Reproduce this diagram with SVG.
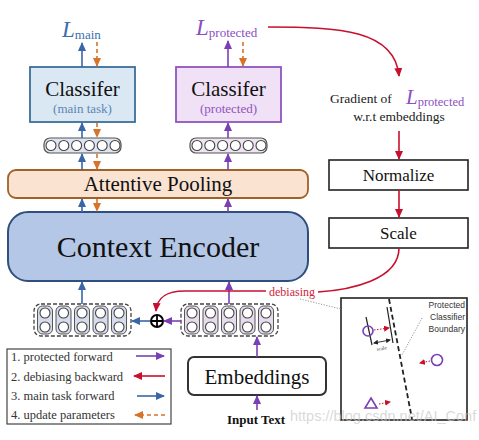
<svg xmlns="http://www.w3.org/2000/svg" width="479" height="440" viewBox="0 0 479 440">
<defs>
<style>
.serif{font-family:'Liberation Serif','DejaVu Serif','Noto Serif',serif}
.sans{font-family:'Liberation Sans','DejaVu Sans',sans-serif}
.blue{stroke:#3a66a8;stroke-width:1.6;fill:none}
.purp{stroke:#7b3fb5;stroke-width:1.6;fill:none}
.orng{stroke:#d8732a;stroke-width:1.6;fill:none;stroke-dasharray:4 3}
.red{stroke:#c8102e;stroke-width:1.6;fill:none}
.col{stroke:#555;stroke-width:1}
.dot{fill:#fff;stroke:#444;stroke-width:1.1}
</style>
<marker id="ab" markerUnits="userSpaceOnUse" markerWidth="9" markerHeight="8" refX="8" refY="4" orient="auto"><path d="M0,0 L9,4 L0,8 z" fill="#3a66a8"/></marker>
<marker id="ap" markerUnits="userSpaceOnUse" markerWidth="9" markerHeight="8" refX="8" refY="4" orient="auto"><path d="M0,0 L9,4 L0,8 z" fill="#7b3fb5"/></marker>
<marker id="ao" markerUnits="userSpaceOnUse" markerWidth="9" markerHeight="8" refX="8" refY="4" orient="auto"><path d="M0,0 L9,4 L0,8 z" fill="#d8732a"/></marker>
<marker id="ar" markerUnits="userSpaceOnUse" markerWidth="9" markerHeight="8" refX="8" refY="4" orient="auto"><path d="M0,0 L9,4 L0,8 z" fill="#c8102e"/></marker>
<marker id="ars" markerUnits="userSpaceOnUse" markerWidth="6" markerHeight="6" refX="5" refY="3" orient="auto"><path d="M0,0 L6,3 L0,6 z" fill="#c8102e"/></marker>
<marker id="ak" markerUnits="userSpaceOnUse" markerWidth="5" markerHeight="5" refX="4" refY="2.5" orient="auto-start-reverse"><path d="M0,0 L5,2.5 L0,5 z" fill="#222"/></marker>
<g id="colL"><rect x="-7.5" y="-14" width="15" height="28" rx="5" fill="#d5dcec" class="col"/><circle cx="0" cy="-7" r="5" class="dot"/><circle cx="0" cy="7" r="5" class="dot"/></g>
<g id="colR"><rect x="-7.5" y="-14" width="15" height="28" rx="5" fill="#e6dcee" class="col"/><circle cx="0" cy="-7" r="5" class="dot"/><circle cx="0" cy="7" r="5" class="dot"/></g>
</defs>
<rect width="479" height="440" fill="#fff"/>

<!-- Loss labels -->
<g id="lmain"><text x="62" y="37" class="serif" font-family="'Liberation Serif','DejaVu Serif',serif" fill="#3a6fb0"><tspan font-style="italic" font-size="23">L</tspan><tspan font-size="13" dy="2">main</tspan></text></g>
<g id="lprot"><text x="196" y="35" class="serif" font-family="'Liberation Serif','DejaVu Serif',serif" fill="#8b4fc2"><tspan font-style="italic" font-size="23">L</tspan><tspan font-size="13" dy="2">protected</tspan></text></g>

<g font-family="'Liberation Serif','DejaVu Serif',serif">
<!-- Classifiers -->
<g id="clsMain"><rect x="30" y="67" width="105" height="55" fill="#dae8f4" stroke="#3b6e99" stroke-width="1.8"/>
<text x="82.5" y="96" text-anchor="middle" class="serif" font-size="21" fill="#111">Classifer</text>
<text x="82.5" y="113" text-anchor="middle" class="serif" font-size="13" fill="#5a86b5">(main task)</text></g>
<g id="clsProt"><rect x="176" y="67" width="105" height="55" fill="#f0e1f6" stroke="#8e55c0" stroke-width="1.8"/>
<text x="228.5" y="96" text-anchor="middle" class="serif" font-size="21" fill="#111">Classifer</text>
<text x="228.5" y="113" text-anchor="middle" class="serif" font-size="13" fill="#8e55c0">(protected)</text></g>

<!-- pooled vectors -->
<g id="vecMain"><rect x="44" y="138" width="77" height="15" rx="6" fill="#dfe5f0" stroke="#555" stroke-width="1.2"/>
<g class="dot"><circle cx="51" cy="145.5" r="5"/><circle cx="63.8" cy="145.5" r="5"/><circle cx="76.6" cy="145.5" r="5"/><circle cx="89.4" cy="145.5" r="5"/><circle cx="102.2" cy="145.5" r="5"/><circle cx="115" cy="145.5" r="5"/></g></g>
<g id="vecProt"><rect x="190" y="138" width="77" height="15" rx="6" fill="#eee4f2" stroke="#555" stroke-width="1.2"/>
<g class="dot"><circle cx="197" cy="145.5" r="5"/><circle cx="209.8" cy="145.5" r="5"/><circle cx="222.6" cy="145.5" r="5"/><circle cx="235.4" cy="145.5" r="5"/><circle cx="248.2" cy="145.5" r="5"/><circle cx="261" cy="145.5" r="5"/></g></g>

<!-- Attentive pooling -->
<g id="pool"><rect x="8" y="170" width="300" height="28" rx="8" fill="#fbe3d1" stroke="#a0602a" stroke-width="1.8"/>
<text x="158" y="191" text-anchor="middle" class="serif" font-size="21" fill="#111">Attentive Pooling</text></g>

<!-- Context encoder -->
<g id="encoder"><rect x="8" y="212" width="300" height="69" rx="20" fill="#b4c7e7" stroke="#2f4f7f" stroke-width="2"/>
<text x="158" y="257" text-anchor="middle" class="serif" font-size="30" fill="#111">Context Encoder</text></g>

<!-- embedding rows -->
<g id="embLeft"><rect x="34" y="304" width="97" height="32" rx="7" fill="none" stroke="#444" stroke-width="1.3" stroke-dasharray="4 2"/>
<use href="#colL" x="45" y="320"/><use href="#colL" x="63.5" y="320"/><use href="#colL" x="82" y="320"/><use href="#colL" x="100.5" y="320"/><use href="#colL" x="119" y="320"/></g>
<g id="embRight"><rect x="181" y="304" width="97" height="32" rx="7" fill="none" stroke="#444" stroke-width="1.3" stroke-dasharray="4 2"/>
<use href="#colR" x="192" y="320"/><use href="#colR" x="210.5" y="320"/><use href="#colR" x="229" y="320"/><use href="#colR" x="247.5" y="320"/><use href="#colR" x="266" y="320"/></g>
<g id="plus"><circle cx="157" cy="321" r="6" fill="#fff" stroke="#000" stroke-width="2"/><path d="M151,321 H163 M157,315 V327" stroke="#000" stroke-width="1.8"/></g>

<!-- Embeddings and input -->
<g id="embeddings"><rect x="188" y="357" width="138" height="38" rx="6" fill="#fff" stroke="#333" stroke-width="2"/>
<text x="257" y="384" text-anchor="middle" class="serif" font-size="21" fill="#111">Embeddings</text></g>
<g id="input"><text x="256" y="424" text-anchor="middle" class="serif" font-size="13" font-weight="bold" fill="#111">Input Text</text></g>

<!-- right column -->
<g id="gradient"><text x="330" y="103" class="serif" font-size="13.5" fill="#222">Gradient of</text>
<text x="406" y="104" class="serif" fill="#8b4fc2"><tspan font-style="italic" font-size="21">L</tspan><tspan font-size="12.5" dy="2">protected</tspan></text>
<text x="399" y="121" text-anchor="middle" class="serif" font-size="13.5" fill="#222">w.r.t embeddings</text></g>
<g id="normalize"><rect x="329" y="160" width="139" height="30" fill="#fff" stroke="#222" stroke-width="1.6"/>
<text x="398.5" y="181" text-anchor="middle" class="serif" font-size="17" fill="#111">Normalize</text></g>
<g id="scale"><rect x="329" y="218" width="139" height="30" fill="#fff" stroke="#222" stroke-width="1.6"/>
<text x="398.5" y="239" text-anchor="middle" class="serif" font-size="17" fill="#111">Scale</text></g>

<!-- legend -->
<g id="legend"><rect x="7" y="349" width="164" height="75" fill="#fff" stroke="#444" stroke-width="1.2"/>
<g class="serif" font-size="12.5" fill="#333"><text x="11" y="361">1. protected forward</text><text x="11" y="381">2. debiasing backward</text><text x="11" y="400">3. main task forward</text><text x="11" y="419">4. update parameters</text></g>
<line x1="136" y1="356" x2="164" y2="356" class="purp" marker-end="url(#ap)"/>
<line x1="165" y1="376" x2="134" y2="376" class="red" marker-end="url(#ar)"/>
<line x1="137" y1="396" x2="164" y2="396" class="blue" marker-end="url(#ab)"/>
<line x1="165" y1="415" x2="135" y2="415" class="orng" marker-end="url(#ao)"/></g>
</g>

<!-- inset -->
<g id="inset"><rect x="341" y="298" width="126" height="122" fill="#fff" stroke="#222" stroke-width="1.6"/>
<line x1="389" y1="299" x2="412" y2="419" stroke="#222" stroke-width="1.8" stroke-dasharray="5 3"/>
<g class="sans" font-size="8.5" fill="#333" text-anchor="end"><text x="465" y="308">Protected</text><text x="465" y="320">Classifier</text><text x="465" y="332">Boundary</text></g>
<line x1="422" y1="318" x2="402" y2="355" stroke="#888" stroke-width="0.9" stroke-dasharray="1.2 1.5"/>
<line x1="366" y1="317" x2="372" y2="345" stroke="#222" stroke-width="1.2"/>
<line x1="387" y1="307" x2="393" y2="343" stroke="#222" stroke-width="1.2"/>
<line x1="374" y1="343" x2="390" y2="340" stroke="#222" stroke-width="0.9" marker-start="url(#ak)" marker-end="url(#ak)"/>
<text x="382" y="350" text-anchor="middle" class="serif" font-family="'Liberation Serif',serif" font-size="5" fill="#333" transform="rotate(-10 382 350)">scale</text>
<circle cx="368" cy="331" r="5" fill="none" stroke="#7b3fb5" stroke-width="1.6"/>
<line x1="374" y1="330" x2="389" y2="328" stroke="#c8102e" stroke-width="1" stroke-dasharray="1.5 1.5" marker-end="url(#ars)"/>
<circle cx="437" cy="360" r="5.5" fill="none" stroke="#7b3fb5" stroke-width="1.6"/>
<line x1="430" y1="361" x2="420" y2="363" stroke="#c8102e" stroke-width="1" stroke-dasharray="1.5 1.5" marker-end="url(#ars)"/>
<path d="M371,398 L377,408 L365,408 Z" fill="none" stroke="#7b3fb5" stroke-width="1.6"/>
<line x1="379" y1="404" x2="390" y2="402" stroke="#c8102e" stroke-width="1" stroke-dasharray="1.5 1.5" marker-end="url(#ars)"/></g>

<!-- connectors -->
<g id="connectors">
<line x1="82" y1="67" x2="82" y2="43" class="blue" marker-end="url(#ab)"/>
<line x1="97" y1="42" x2="97" y2="66" class="orng" marker-end="url(#ao)"/>
<line x1="228" y1="67" x2="228" y2="41" class="purp" marker-end="url(#ap)"/>
<line x1="243" y1="42" x2="243" y2="66" class="orng" marker-end="url(#ao)"/>
<line x1="82" y1="138" x2="82" y2="123" class="blue" marker-end="url(#ab)"/>
<line x1="97" y1="123" x2="97" y2="137" class="orng" marker-end="url(#ao)"/>
<line x1="228" y1="138" x2="228" y2="123" class="purp" marker-end="url(#ap)"/>
<line x1="82" y1="170" x2="82" y2="154" class="blue" marker-end="url(#ab)"/>
<line x1="97" y1="154" x2="97" y2="169" class="orng" marker-end="url(#ao)"/>
<line x1="228" y1="170" x2="228" y2="154" class="purp" marker-end="url(#ap)"/>
<line x1="82" y1="212" x2="82" y2="199" class="blue" marker-end="url(#ab)"/>
<line x1="97" y1="199" x2="97" y2="211" class="orng" marker-end="url(#ao)"/>
<line x1="228" y1="212" x2="228" y2="199" class="purp" marker-end="url(#ap)"/>
<line x1="82" y1="304" x2="82" y2="282" class="blue" marker-end="url(#ab)"/>
<line x1="229" y1="304" x2="229" y2="282" class="purp" marker-end="url(#ap)"/>
<line x1="150" y1="321" x2="132" y2="321" class="blue" marker-end="url(#ab)"/>
<line x1="181" y1="321" x2="164" y2="321" class="purp" marker-end="url(#ap)"/>
<line x1="257" y1="357" x2="257" y2="337" class="purp" marker-end="url(#ap)"/>
<line x1="257" y1="410" x2="257" y2="396" class="purp" marker-end="url(#ap)"/>
<path d="M268,27 C340,27 395,30 399,76" class="red" marker-end="url(#ar)"/>
<line x1="399" y1="131" x2="399" y2="159" class="red" marker-end="url(#ar)"/>
<line x1="399" y1="190" x2="399" y2="217" class="red" marker-end="url(#ar)"/>
<path d="M399,248 C399,280 350,290 318,292" class="red"/>
<path d="M266,291 L185,291 C165,291 157,298 156,311" class="red" marker-end="url(#ar)"/>
<text x="292" y="296" text-anchor="middle" class="serif" font-family="'Liberation Serif','DejaVu Serif',serif" font-size="12" fill="#d0243a">debiasing</text>
<line x1="300" y1="299" x2="341" y2="309" stroke="#888" stroke-width="0.9" stroke-dasharray="1.2 1.5"/>
</g>
<text x="290" y="421" class="sans" font-family="'Liberation Sans',sans-serif" font-size="14.5" fill="#c8c8c8" fill-opacity="0.7">https://blog.csdn.net/AI_Conf</text>
</svg>
